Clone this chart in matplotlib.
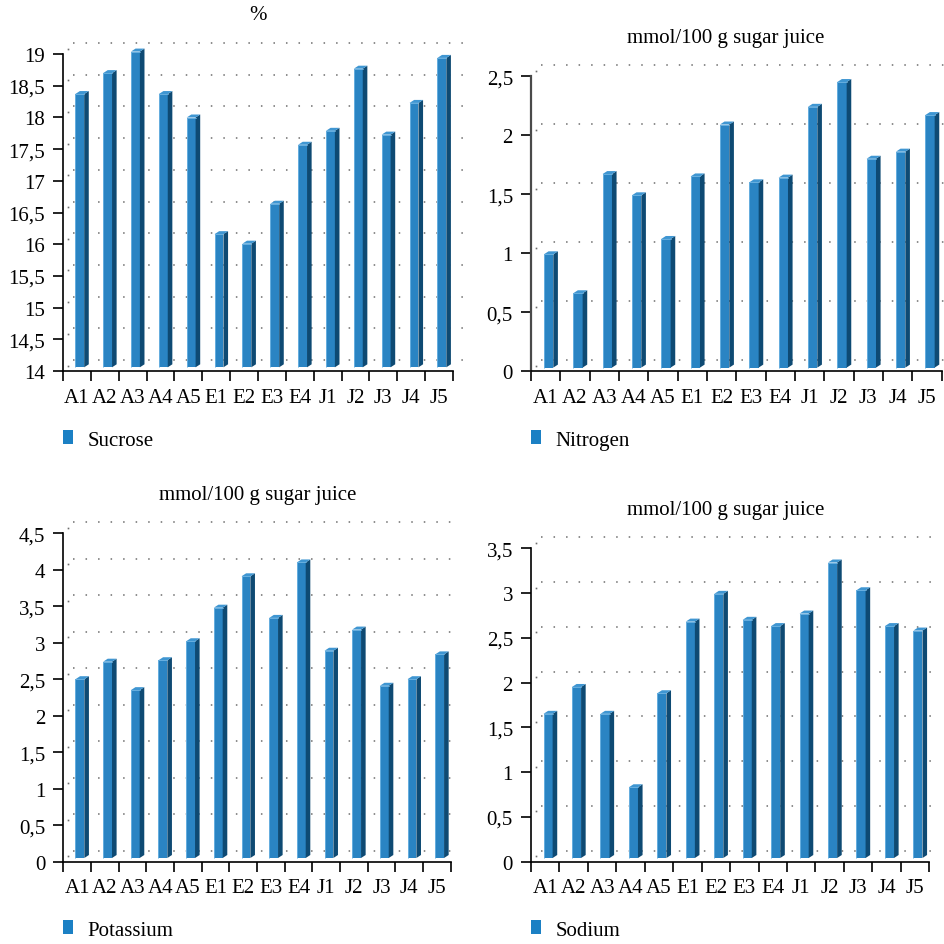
import matplotlib
matplotlib.use("Agg")
import matplotlib.pyplot as plt
from matplotlib.patches import Polygon, Patch

plt.rcParams['font.family'] = ['Liberation Serif', 'DejaVu Serif']

W = H = 945
DPI = 100

categories = ["A1", "A2", "A3", "A4", "A5", "E1", "E2", "E3", "E4",
              "J1", "J2", "J3", "J4", "J5"]

sucrose = [18.31, 18.64, 18.98, 18.31, 17.94, 16.10, 15.95, 16.58, 17.51,
           17.73, 18.71, 17.67, 18.17, 18.88]
nitrogen = [0.96, 0.63, 1.64, 1.46, 1.09, 1.62, 2.06, 1.57, 1.61,
            2.21, 2.42, 1.77, 1.83, 2.14]
potassium = [2.45, 2.69, 2.30, 2.71, 2.97, 3.43, 3.86, 3.29, 4.05,
             2.84, 3.13, 2.36, 2.45, 2.79]
sodium = [1.61, 1.91, 1.61, 0.79, 1.84, 2.64, 2.95, 2.66, 2.59,
          2.73, 3.30, 2.99, 2.59, 2.54]

series_names = ["Sucrose", "Nitrogen", "Potassium", "Sodium"]
units = ["%", "mmol/100 g sugar juice", "mmol/100 g sugar juice",
         "mmol/100 g sugar juice"]
y_ranges = [(14, 19), (0, 2.5), (0, 4.5), (0, 3.5)]
y_step = 0.5

# panel frames in pixels: left, right, y of top value, y of bottom value
frames = [
    (63.0, 453.0, 55.0, 372.0),
    (531.0, 941.7, 77.3, 372.3),
    (63.3, 450.7, 534.3, 862.7),
    (531.0, 929.3, 549.3, 862.7),
]
title_pos = [(258, 16), (726, 39), (258, 496), (726, 511)]
legend_y = [441, 441, 931, 931]

FRONT = "#2A84C3"
SIDE = "#0E4A73"
TOP = "#3F96D2"
EDGE = "#7FC0EA"
LEGEND_C = "#1B80C4"
GRID_C = "#6E6E6E"
FS = 15

fig = plt.figure(figsize=(W / DPI, H / DPI), dpi=DPI)
fig.patch.set_facecolor("white")


def fmt(v):
    return f"{v:g}".replace(".", ",")


for k, values in enumerate([sucrose, nitrogen, potassium, sodium]):
    left, right, ytop, ybot = frames[k]
    ymin, ymax = y_ranges[k]
    ax = fig.add_axes([left / W, 1 - ybot / H, (right - left) / W, (ybot - ytop) / H])
    n = len(categories)
    ax.set_xlim(0, n)
    ax.set_ylim(ymin, ymax)
    px_x = (right - left) / n
    px_y = (ybot - ytop) / (ymax - ymin)

    # back wall dotted gridlines, pushed back by the chart depth
    wdx, wdy = 10 / px_x, 11 / px_y
    nt = int(round((ymax - ymin) / y_step))
    ticks = [ymin + j * y_step for j in range(nt + 1)]
    for v in ticks:
        ax.plot([wdx, n + wdx], [v + wdy, v + wdy], color=GRID_C, lw=1.1,
                dashes=(1.0, 7.2), solid_capstyle="butt", dash_capstyle="butt",
                clip_on=False, zorder=1)
        ax.plot([wdx / 2], [v + wdy / 2], marker="s", ms=1.2, mew=0,
                color=GRID_C, clip_on=False, zorder=1)

    # 3D-looking columns: front face via bar, side and top as polygons
    base = ymin + 3.7 / px_y
    bw = 0.32
    x0 = [i + 0.44 for i in range(n)]
    heights = [v - ymin for v in values]
    ax.bar(x0, heights, width=bw, bottom=base, align="edge", color=FRONT,
           edgecolor="none", zorder=3, clip_on=False)
    ddx, ddy = 4.6 / px_x, 3.0 / px_y
    for xl, v in zip(x0, values):
        xr = xl + bw
        t = v + (base - ymin)
        ax.add_patch(Polygon([(xr, base), (xr, t), (xr + ddx, t + ddy), (xr + ddx, base + ddy)],
                             closed=True, facecolor=SIDE, edgecolor="none",
                             zorder=3, clip_on=False))
        ax.add_patch(Polygon([(xl, t), (xr, t), (xr + ddx, t + ddy), (xl + ddx, t + ddy)],
                             closed=True, facecolor=TOP, edgecolor="none",
                             zorder=3, clip_on=False))
        ax.plot([xl, xl, xr], [base, t, t], color=EDGE, lw=0.5, zorder=4,
                clip_on=False)

    # axes styling
    for s in ("top", "right"):
        ax.spines[s].set_visible(False)
    spine_c = "#4A4A4A" if k == 1 else "black"
    spine_w = 1.6 if k == 1 else 1.2
    ax.spines["left"].set_color(spine_c)
    ax.spines["left"].set_linewidth(spine_w)
    ax.spines["bottom"].set_linewidth(1.2)

    ax.set_yticks(ticks)
    ax.set_yticklabels([fmt(v) for v in ticks])
    ax.tick_params(axis="y", direction="out", length=7, width=1.2,
                   pad=6, labelsize=FS, colors="black")
    ax.set_xticks(range(n + 1))
    ax.set_xticklabels([])
    ax.set_xticks([i + 0.5 for i in range(n)], minor=True)
    ax.set_xticklabels(categories, minor=True)
    ax.tick_params(axis="x", which="major", direction="out", length=7, width=1.2)
    ax.tick_params(axis="x", which="minor", length=0, pad=12, labelsize=FS)
    ax.set_facecolor("none")

    tx, ty = title_pos[k]
    fig.text(tx / W, 1 - ty / H, units[k], ha="center", va="center", fontsize=FS)

    ax.legend(handles=[Patch(facecolor=LEGEND_C, edgecolor="none")],
              labels=[series_names[k]], loc="center left",
              bbox_to_anchor=(left / W, 1 - legend_y[k] / H),
              bbox_transform=fig.transFigure, frameon=False, borderpad=0,
              borderaxespad=0, handlelength=0.48, handleheight=0.64,
              handletextpad=0.68, fontsize=FS)

fig.savefig("out.png", dpi=DPI, facecolor="white")
